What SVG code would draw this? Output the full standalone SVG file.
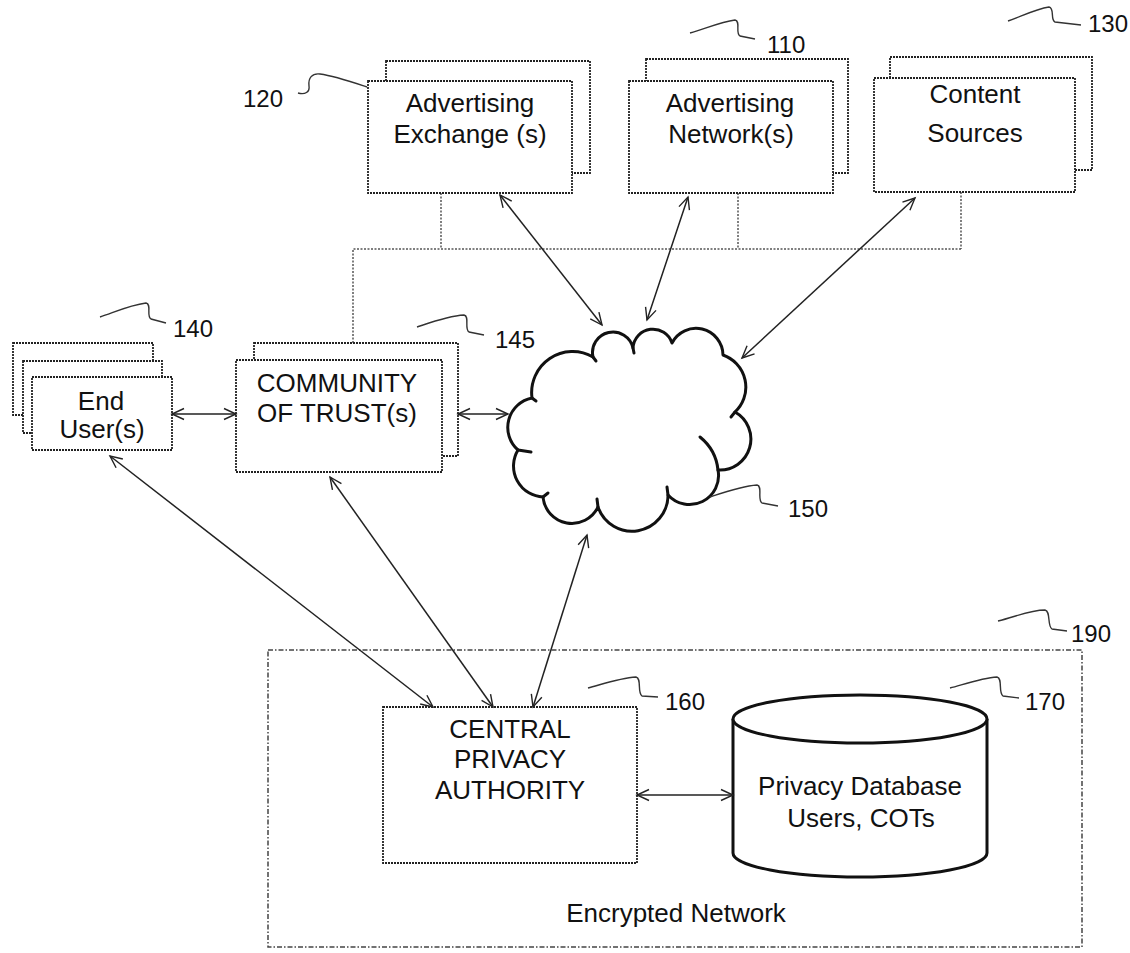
<svg xmlns="http://www.w3.org/2000/svg" width="1130" height="953" viewBox="0 0 1130 953">
  <style>
    .box { fill: #fff; stroke: #222; stroke-width: 1.8; stroke-dasharray: 2 1; }
    .lbl { font-family: "Liberation Sans", Arial, sans-serif; font-size: 26px; fill: #111; text-anchor: middle; }
    .num { font-family: "Liberation Sans", Arial, sans-serif; font-size: 24px; fill: #111; }
    .lead { fill: none; stroke: #333; stroke-width: 1.4; }
    .bus { fill: none; stroke: #555; stroke-width: 1.5; stroke-dasharray: 2 1.5; }
    .link { fill: none; stroke: #222; stroke-width: 1.5; marker-start: url(#arr); marker-end: url(#arr); }
    .heavy { fill: #fff; stroke: #111; stroke-width: 3; }
  </style>
  <defs>
    <marker id="arr" markerUnits="userSpaceOnUse" markerWidth="16" markerHeight="14" refX="13" refY="7" orient="auto-start-reverse">
      <path d="M1,1.5 L13,7 L1,12.5" fill="none" stroke="#222" stroke-width="1.4"/>
    </marker>
  </defs>
  <rect width="1130" height="953" fill="#fff"/>

  <!-- bus wiring from the top boxes down to the community of trust -->
  <g id="bus">
    <path class="bus" d="M441,193 V249 M738,193 V249 M961,192 V249 M353,343 V249 H961"/>
  </g>

  <!-- encrypted network enclosure -->
  <g id="encrypted-network">
    <rect x="268" y="650" width="814" height="297" fill="none" stroke="#444" stroke-width="1.5" stroke-dasharray="5 2 1.5 2"/>
    <text class="lbl" x="676" y="922">Encrypted Network</text>
    <path class="lead" d="M998,621 C1015,617 1030,610 1045,610 C1051,611 1047,626 1052,629 L1067,631"/>
    <text class="num" x="1071" y="642">190</text>
  </g>

  <g id="ad-exchange">
    <rect class="box" x="386" y="61" width="204" height="112"/>
    <rect class="box" x="368" y="81" width="204" height="112"/>
    <text class="lbl" x="470" y="112">Advertising</text>
    <text class="lbl" x="470" y="143">Exchange (s)</text>
    <path class="lead" d="M298,93 C305,95 310,92 309,86 C308,78 312,73 320,74 C335,76 352,82 367,87"/>
    <text class="num" x="243" y="107">120</text>
  </g>

  <g id="ad-network">
    <rect class="box" x="646" y="59" width="202" height="114"/>
    <rect class="box" x="629" y="81" width="204" height="112"/>
    <text class="lbl" x="730" y="112">Advertising</text>
    <text class="lbl" x="731" y="143">Network(s)</text>
    <path class="lead" d="M690,33 C705,29 720,22 735,20 C741,21 735,33 740,36 L755,39"/>
    <text class="num" x="767" y="53">110</text>
  </g>

  <g id="content-sources">
    <rect class="box" x="890" y="57" width="202" height="113"/>
    <rect class="box" x="874" y="78" width="201" height="114"/>
    <text class="lbl" x="975" y="103">Content</text>
    <text class="lbl" x="975" y="142">Sources</text>
    <path class="lead" d="M1008,21 C1022,16 1036,9 1049,7 C1055,8 1050,20 1055,22 L1081,25"/>
    <text class="num" x="1128" y="32" text-anchor="end">130</text>
  </g>

  <g id="end-users">
    <rect class="box" x="13" y="343" width="140" height="72"/>
    <rect class="box" x="23" y="361" width="139" height="72"/>
    <rect class="box" x="32" y="377" width="140" height="73"/>
    <text class="lbl" x="101" y="410">End</text>
    <text class="lbl" x="102" y="438">User(s)</text>
    <path class="lead" d="M100,317 C115,312 130,305 146,303 C152,304 146,316 151,319 L166,323"/>
    <text class="num" x="173" y="337">140</text>
  </g>

  <g id="community-of-trust">
    <rect class="box" x="254" y="343" width="204" height="113"/>
    <rect class="box" x="236" y="360" width="206" height="112"/>
    <text class="lbl" x="337" y="392">COMMUNITY</text>
    <text class="lbl" x="337" y="422">OF TRUST(s)</text>
    <path class="lead" d="M417,327 C432,322 448,316 464,315 C470,316 464,329 469,332 L484,335"/>
    <text class="num" x="495" y="348">145</text>
  </g>

  <g id="network-cloud">
    <path fill="#fff" stroke="#111" stroke-width="3" stroke-linejoin="round"
      d="M518,450 A30,30 0 0 1 532,398 A41,41 0 0 1 593,357 A20.5,20.5 0 0 1 633,348 A20,20 0 0 1 672,343 A27,27 0 0 1 723,355 A34,34 0 0 1 735,412 A31,31 0 0 1 718,470 A29,29 0 0 1 668,495 A36,36 0 0 1 598,507 A29,29 0 0 1 543,497 A31,31 0 0 1 518,450 Z"/>
    <path fill="none" stroke="#111" stroke-width="3" stroke-linecap="round"
      d="M718,470 Q716,450 700,437 M735,412 L731,417 M668,495 L667,487 M598,507 L597,499 M518,450 L531,452 M532,398 L536,401 M593,357 L596,361 M543,497 L548,493 M633,348 L634,353"/>
    <path class="lead" d="M710,497 C725,492 742,486 757,485 C763,486 757,500 762,503 L778,506"/>
    <text class="num" x="788" y="517">150</text>
  </g>

  <g id="central-privacy-authority">
    <rect class="box" x="383" y="707" width="254" height="156"/>
    <text class="lbl" x="510" y="738">CENTRAL</text>
    <text class="lbl" x="510" y="768">PRIVACY</text>
    <text class="lbl" x="510" y="799">AUTHORITY</text>
    <path class="lead" d="M588,688 C603,684 620,678 636,677 C642,678 637,693 642,696 L658,697"/>
    <text class="num" x="665" y="710">160</text>
  </g>

  <g id="privacy-database">
    <path class="heavy" d="M733,719 V853 A127,24 0 0 0 987,853 V719"/>
    <ellipse class="heavy" cx="860" cy="719" rx="127" ry="24"/>
    <text class="lbl" x="860" y="795">Privacy Database</text>
    <text class="lbl" x="861" y="827">Users, COTs</text>
    <path class="lead" d="M950,688 C965,684 982,678 997,677 C1003,678 998,693 1003,696 L1019,698"/>
    <text class="num" x="1025" y="710">170</text>
  </g>

  <!-- two-way links -->
  <g id="connectors">
    <path class="link" d="M500,195 L602,325"/>
    <path class="link" d="M688,197 L647,320"/>
    <path class="link" d="M915,198 L742,358"/>
    <path class="link" d="M172,414 L236,414"/>
    <path class="link" d="M458,414 L508,414"/>
    <path class="link" d="M110,456 L433,707"/>
    <path class="link" d="M330,477 L493,707"/>
    <path class="link" d="M587,535 L533,707"/>
    <path class="link" d="M637,795 L733,795"/>
  </g>
</svg>
